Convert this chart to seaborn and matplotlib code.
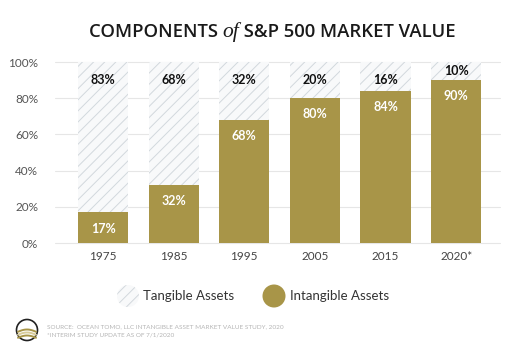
import numpy as np
import pandas as pd
import seaborn as sns
import matplotlib.pyplot as plt
from matplotlib.patches import Circle

years = ["1975", "1985", "1995", "2005", "2015", "2020*"]
intangible = [17, 32, 68, 80, 84, 90]
tangible = [83, 68, 32, 20, 16, 10]

GOLD = "#a89548"
HATCH = "#d2d8dd"

sns.set_theme(style="white")
plt.rcParams["font.family"] = ["Lato", "DejaVu Sans"]
plt.rcParams["hatch.linewidth"] = 0.7

df = pd.DataFrame({"year": years, "intangible": intangible, "tangible": tangible})
df["total"] = df["intangible"] + df["tangible"]

fig = plt.figure(figsize=(5.12, 3.49), dpi=100)
fig.patch.set_facecolor("white")
ax = fig.add_axes([55 / 512, 1 - 243 / 349, 445 / 512, 181 / 349])

sns.barplot(data=df, x="year", y="total", color="#f8f9fa", edgecolor=HATCH,
            hatch="///", linewidth=0, width=0.71, saturation=1, ax=ax, zorder=2)
sns.barplot(data=df, x="year", y="intangible", color=GOLD, linewidth=0,
            width=0.71, saturation=1, ax=ax, zorder=3)

ax.set_xlim(-0.68, 5.62)
ax.set_ylim(0, 100)
ax.set_yticks(range(0, 101, 20))
ax.set_yticklabels([f"{v}%" for v in range(0, 101, 20)], color="#555555", fontsize=8.5)
ax.tick_params(axis="x", colors="#444444", labelsize=8.5, length=0, pad=6)
ax.tick_params(axis="y", length=0, pad=12)
ax.grid(axis="y", color="#e6e6e6", linewidth=0.8, zorder=0)
ax.set_axisbelow(True)
for s in ax.spines.values():
    s.set_visible(False)
ax.set_xlabel("")
ax.set_ylabel("")
for gl in ax.get_ygridlines():
    gl.set_clip_on(False)

for i, (iv, tv) in enumerate(zip(intangible, tangible)):
    ax.text(i, iv - 9, f"{iv}%", ha="center", va="center", color="white",
            fontsize=9, fontweight="bold", zorder=5)
    ty = max(90, iv + 5)
    ax.text(i, ty, f"{tv}%", ha="center", va="center", color="#111111",
            fontsize=9, fontweight="bold", zorder=5)

# overlay in pixel coordinates for title, legend and footer
ov = fig.add_axes([0, 0, 1, 1], zorder=-1)
ov.set_xlim(0, 512)
ov.set_ylim(349, 0)
ov.axis("off")

# title with italic "of"
fig.canvas.draw()
r = fig.canvas.get_renderer()
parts = [("COMPONENTS ", dict(fontweight="semibold", family=["Open Sans"])),
         ("of", dict(fontstyle="italic", family=["Liberation Serif"], fontsize=15.5)),
         (" S&P 500 MARKET VALUE", dict(fontweight="semibold", family=["Open Sans"]))]
texts = []
x = 0
for s, kw in parts:
    kw = dict(kw)
    fs = kw.pop("fontsize", 13.3)
    t = ov.text(x, 32, s, ha="left", va="center", fontsize=fs, color="#1a1a1a", **kw)
    texts.append(t)
    x += t.get_window_extent(r).width
start = (85 + 460) / 2 - x / 2
x = start
for t in texts:
    t.set_x(x)
    x += t.get_window_extent(r).width

# legend
ov.add_patch(Circle((128, 296), 11, facecolor="#f8f9fa", edgecolor=HATCH,
                    hatch="///", linewidth=0))
ov.text(143, 296, "Tangible Assets", ha="left", va="center", fontsize=9.5, color="#333333")
ov.add_patch(Circle((274, 296), 11.5, facecolor=GOLD, linewidth=0))
ov.text(290, 296, "Intangible Assets", ha="left", va="center", fontsize=9.5, color="#333333")

# footer logo and source
ov.add_patch(Circle((27, 330), 10.5, facecolor="white", edgecolor="#222222", linewidth=1.2))
tt = np.linspace(-0.95, 0.95, 30)
for k, off in enumerate([0, 3, 6]):
    xs = 27 + tt * 9.5
    ys = 331 + off - 3 * np.cos(tt * 1.4) + 1.5
    ov.plot(xs, ys, color=GOLD if k != 1 else "#d8cc9a", linewidth=1.4)
ov.text(47, 327, "SOURCE:  OCEAN TOMO, LLC INTANGIBLE ASSET MARKET VALUE STUDY, 2020",
        ha="left", va="center", fontsize=4.6, color="#b5b5b5")
ov.text(47, 335, "*INTERIM STUDY UPDATE AS OF 7/1/2020",
        ha="left", va="center", fontsize=4.6, color="#b5b5b5")

fig.savefig("out.png", dpi=100, facecolor="white")
